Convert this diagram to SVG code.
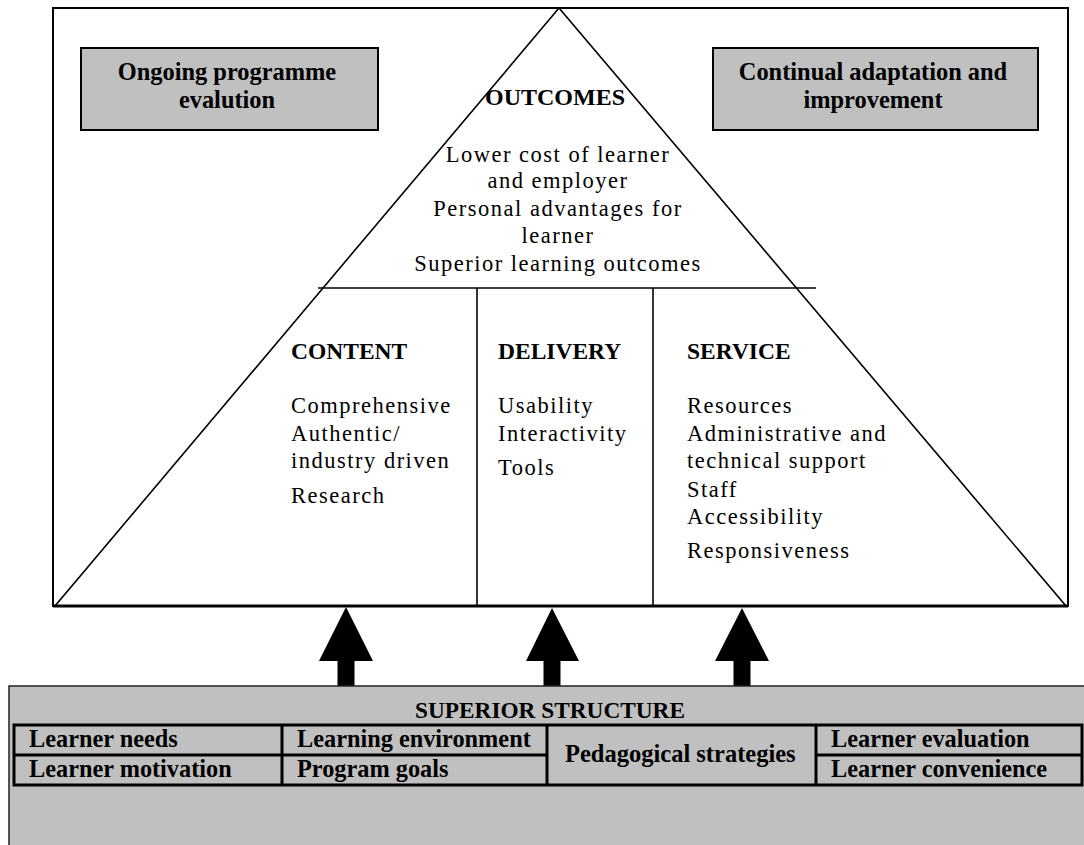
<svg xmlns="http://www.w3.org/2000/svg" width="1084" height="845" viewBox="0 0 1084 845">
<style>
.hd{font-family:"Liberation Serif","Times New Roman",serif;font-weight:bold;fill:#000}
.bd{font-family:"Liberation Serif","Times New Roman",serif;font-size:22.5px;letter-spacing:1.5px;fill:#000}
.gbox{fill:#c0c0c0;stroke:#000;stroke-width:2}
.ln{stroke:#000;stroke-width:1.6;fill:none}
.tl{stroke:#000;stroke-width:3;fill:none}
.arrow{fill:#000}
</style>
<rect width="1084" height="845" fill="#fff"/>
<g id="frame">
<rect x="53" y="8" width="1015" height="598" fill="#fff" stroke="#000" stroke-width="2"/>
<line x1="53" y1="606" x2="1068" y2="606" stroke="#000" stroke-width="3"/>
</g>
<g id="pyramid">
<polygon points="559,8 55,606 1066,606" class="ln"/>
<line x1="318" y1="288" x2="816" y2="288" class="ln"/>
<line x1="477" y1="288" x2="477" y2="606" class="ln"/>
<line x1="653" y1="288" x2="653" y2="606" class="ln"/>
</g>
<g id="ongoing">
<rect x="81" y="48" width="297" height="82" class="gbox"/>
<text class="hd" font-size="24.4" text-anchor="middle" x="227" y="80">Ongoing programme</text>
<text class="hd" font-size="24.4" text-anchor="middle" x="227" y="108">evalution</text>
</g>
<g id="continual">
<rect x="713" y="48" width="325" height="82" class="gbox"/>
<text class="hd" font-size="24.4" text-anchor="middle" x="873" y="80">Continual adaptation and</text>
<text class="hd" font-size="24.4" text-anchor="middle" x="873" y="108">improvement</text>
</g>
<g id="outcomes">
<text class="hd" font-size="24" text-anchor="middle" x="555" y="105">OUTCOMES</text>
<text class="bd" text-anchor="middle" x="558" y="162">Lower cost of learner</text>
<text class="bd" text-anchor="middle" x="558" y="188">and employer</text>
<text class="bd" text-anchor="middle" x="558" y="216">Personal advantages for</text>
<text class="bd" text-anchor="middle" x="558" y="243">learner</text>
<text class="bd" text-anchor="middle" x="558" y="271">Superior learning outcomes</text>
</g>
<g id="content">
<text class="hd" font-size="23.5" x="291" y="359">CONTENT</text>
<text class="bd" x="291" y="413">Comprehensive</text>
<text class="bd" x="291" y="441">Authentic/</text>
<text class="bd" x="291" y="468">industry driven</text>
<text class="bd" x="291" y="503">Research</text>
</g>
<g id="delivery">
<text class="hd" font-size="23.5" x="498" y="359">DELIVERY</text>
<text class="bd" x="498" y="413">Usability</text>
<text class="bd" x="498" y="441">Interactivity</text>
<text class="bd" x="498" y="475">Tools</text>
</g>
<g id="service">
<text class="hd" font-size="23.5" x="687" y="359">SERVICE</text>
<text class="bd" x="687" y="413">Resources</text>
<text class="bd" x="687" y="441">Administrative and</text>
<text class="bd" x="687" y="468">technical support</text>
<text class="bd" x="687" y="497">Staff</text>
<text class="bd" x="687" y="524">Accessibility</text>
<text class="bd" x="687" y="558">Responsiveness</text>
</g>
<g id="connectors">
<polygon class="arrow" points="346,607 373,661 354.5,661 354.5,687 337.5,687 337.5,661 319,661"/>
<polygon class="arrow" points="552,608 579,661 560.5,661 560.5,687 543.5,687 543.5,661 526,661"/>
<polygon class="arrow" points="742,608 769,661 750.5,661 750.5,687 733.5,687 733.5,661 715,661"/>
</g>
<g id="superior-structure">
<rect x="9" y="686" width="1090" height="170" fill="#c0c0c0" stroke="#222" stroke-width="1.5"/>
<text class="hd" font-size="23.3" text-anchor="middle" x="550" y="718">SUPERIOR STRUCTURE</text>
<rect x="14" y="725" width="1068" height="60" class="tl"/>
<line x1="14" y1="755" x2="547" y2="755" class="tl"/>
<line x1="816" y1="755" x2="1082" y2="755" class="tl"/>
<line x1="282" y1="725" x2="282" y2="785" class="tl"/>
<line x1="547" y1="725" x2="547" y2="785" class="tl"/>
<line x1="816" y1="725" x2="816" y2="785" class="tl"/>
<text class="hd" font-size="24.3" x="29" y="747">Learner needs</text>
<text class="hd" font-size="24.3" x="29" y="777">Learner motivation</text>
<text class="hd" font-size="24.3" x="297" y="747">Learning environment</text>
<text class="hd" font-size="24.3" x="297" y="777">Program goals</text>
<text class="hd" font-size="24.5" x="565" y="762">Pedagogical strategies</text>
<text class="hd" font-size="24.3" x="831" y="747">Learner evaluation</text>
<text class="hd" font-size="24.3" x="831" y="777">Learner convenience</text>
</g>
</svg>
